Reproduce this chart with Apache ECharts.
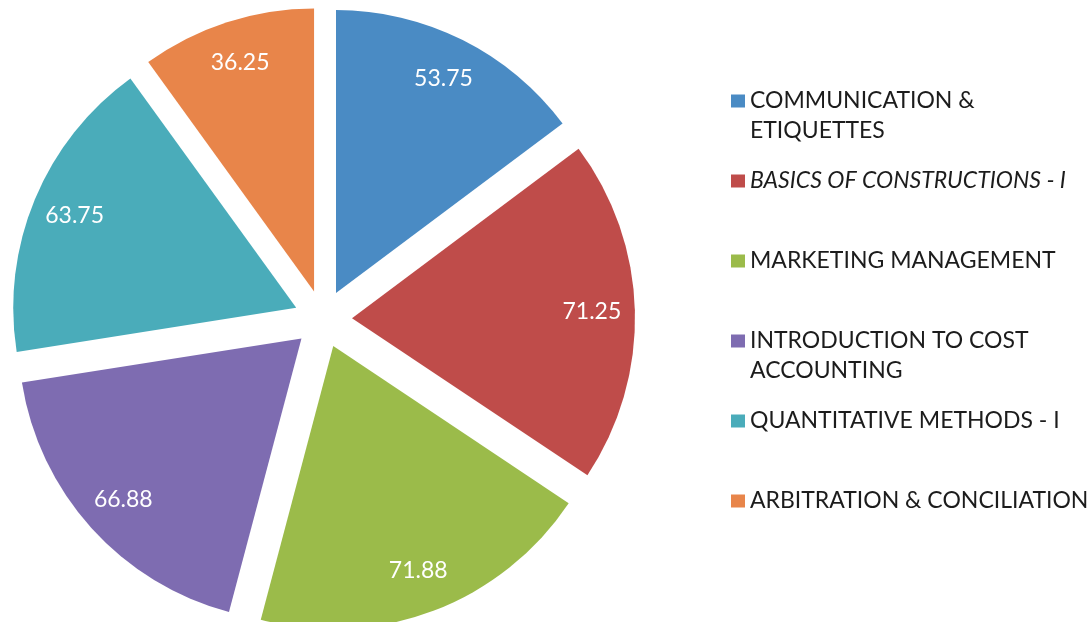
<!DOCTYPE html>
<html>
<head>
<meta charset="utf-8">
<script src="https://cdn.jsdelivr.net/npm/echarts@6/dist/echarts.min.js"></script>
<style>
  html, body { margin: 0; padding: 0; background: #ffffff; }
  #chart { width: 1092px; height: 622px; }
</style>
</head>
<body>
<div id="chart"></div>
<script>
// Subject names (line breaks as shown in the legend) and average scores
const subjects = [
  'COMMUNICATION &\nETIQUETTES',
  'BASICS OF CONSTRUCTIONS - I',
  'MARKETING MANAGEMENT',
  'INTRODUCTION TO COST\nACCOUNTING',
  'QUANTITATIVE METHODS - I',
  'ARBITRATION & CONCILIATION'
];
const scores = [53.75, 71.25, 71.88, 66.88, 63.75, 36.25];
const sliceColors = ['#4a8bc4', '#bf4c4a', '#9bbb4a', '#7e6cb1', '#4aacba', '#e8854a'];
const italicSubjects = ['BASICS OF CONSTRUCTIONS - I'];

const FONT = 'Lato, "Open Sans", sans-serif';
const CENTER = [323, 319];
const OUTER_R = 283;
const EXPLODE = 29;
const LEGEND_LINE = 30;

// Every slice is pulled out from the centre (exploded pie)
const sliceData = subjects.map((name, i) => ({
  name: name,
  value: scores[i],
  selected: true,
  itemStyle: { color: sliceColors[i] }
}));

// Legend entries: italic where the subject is set in italics
const legendData = subjects.map((name) => ({
  name: name,
  textStyle: { fontStyle: italicSubjects.indexOf(name) >= 0 ? 'italic' : 'normal' }
}));

// Each legend entry gets a three-line slot so the icon sits level with the first line
function legendText(name) {
  return name.indexOf('\n') >= 0 ? ' \n' + name : ' \n' + name + '\n ';
}

const chart = echarts.init(document.getElementById('chart'), null, { renderer: 'canvas' });

chart.setOption({
  backgroundColor: '#ffffff',
  animation: false,
  legend: {
    orient: 'vertical',
    left: 731,
    top: 56,
    padding: 0,
    itemGap: -10,
    itemWidth: 14,
    itemHeight: 13,
    icon: 'rect',
    selectedMode: false,
    data: legendData,
    formatter: legendText,
    textStyle: {
      fontFamily: FONT,
      fontSize: 23,
      color: '#1c1c1c',
      lineHeight: LEGEND_LINE
    }
  },
  series: [
    {
      name: 'Slices',
      type: 'pie',
      center: CENTER,
      radius: [0, OUTER_R],
      startAngle: 90,
      clockwise: true,
      selectedMode: 'multiple',
      selectedOffset: EXPLODE,
      silent: true,
      label: { show: false },
      labelLine: { show: false },
      emphasis: { disabled: true },
      itemStyle: { borderWidth: 0 },
      data: sliceData
    },
    {
      // Transparent ring that carries the value labels near the outer edge
      name: 'Values',
      type: 'pie',
      center: CENTER,
      radius: [191, OUTER_R],
      startAngle: 90,
      clockwise: true,
      selectedMode: 'multiple',
      selectedOffset: EXPLODE,
      silent: true,
      emphasis: { disabled: true },
      itemStyle: { color: 'rgba(0,0,0,0)', borderWidth: 0 },
      labelLine: { show: false },
      label: {
        show: true,
        position: 'inside',
        formatter: (p) => p.value.toFixed(2),
        color: '#ffffff',
        fontFamily: FONT,
        fontSize: 23
      },
      data: subjects.map((name, i) => ({ name: name, value: scores[i], selected: true }))
    }
  ]
});
</script>
</body>
</html>
